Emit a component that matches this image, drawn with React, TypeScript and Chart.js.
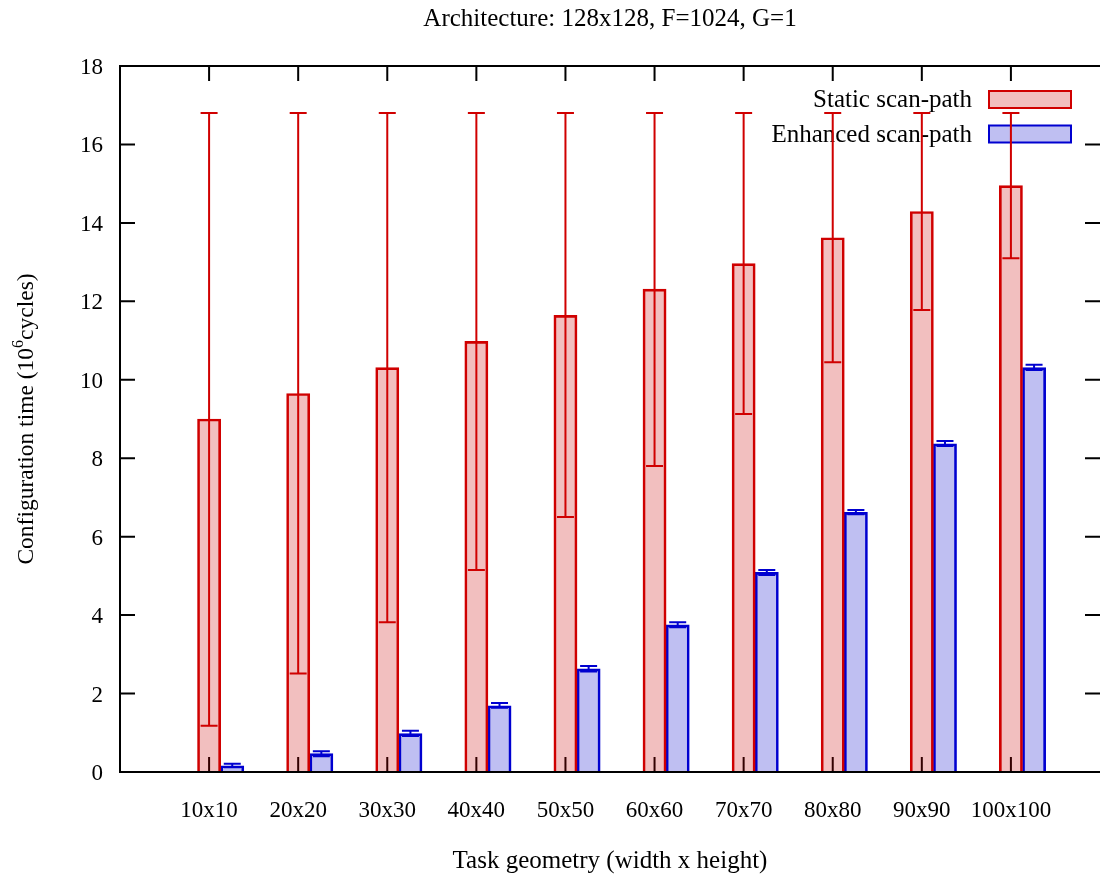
import { useEffect, useRef } from "react";
import { Chart, registerables } from "chart.js";

Chart.register(...registerables);

const categories = ["10x10", "20x20", "30x30", "40x40", "50x50", "60x60", "70x70", "80x80", "90x90", "100x100"];
const staticValues = [9.0, 9.65, 10.31, 10.98, 11.64, 12.31, 12.96, 13.62, 14.29, 14.95];
const staticLow = [1.18, 2.51, 3.82, 5.15, 6.5, 7.8, 9.13, 10.45, 11.78, 13.1];
const staticHigh = [16.8, 16.8, 16.8, 16.8, 16.8, 16.8, 16.8, 16.8, 16.8, 16.8];
const enhancedValues = [0.16, 0.47, 0.98, 1.69, 2.63, 3.75, 5.09, 6.62, 8.37, 10.31];
const enhancedLow = [0.12, 0.4, 0.92, 1.64, 2.56, 3.69, 5.02, 6.57, 8.31, 10.25];
const enhancedHigh = [0.21, 0.53, 1.05, 1.76, 2.7, 3.82, 5.15, 6.68, 8.44, 10.38];
const yTicks = [0, 2, 4, 6, 8, 10, 12, 14, 16, 18];
const seriesLabels = ["Static scan-path", "Enhanced scan-path"];
const chartTitle = "Architecture: 128x128, F=1024, G=1";
const xTitle = "Task geometry (width x height)";
const yTitleParts = ["Configuration time (10", "6", "cycles)"];

const FONT = "'Liberation Serif', 'Times New Roman', serif";
const RED = "rgb(208,0,0)";
const RED_FILL = "rgba(204,0,0,0.25)";
const BLUE = "rgb(0,0,208)";
const BLUE_FILL = "rgba(0,0,204,0.25)";
const BLUE_OFFSET = 0.26;

const errorRanges = [
  { low: staticLow, high: staticHigh, color: RED },
  { low: enhancedLow, high: enhancedHigh, color: BLUE },
];

const decorPlugin = {
  id: "decor",
  beforeDatasetsDraw(chart: any) {
    const { ctx, chartArea: a, scales } = chart;
    const x = scales.x;
    const y = scales.y;
    const tl = 15;
    ctx.save();
    ctx.strokeStyle = "#000";
    ctx.lineWidth = 2;
    ctx.beginPath();
    yTicks.forEach((v) => {
      const py = y.getPixelForValue(v);
      ctx.moveTo(a.left, py);
      ctx.lineTo(a.left + tl, py);
      ctx.moveTo(a.right - tl, py);
      ctx.lineTo(a.right, py);
    });
    categories.forEach((_, i) => {
      const px = x.getPixelForValue(i);
      ctx.moveTo(px, a.bottom);
      ctx.lineTo(px, a.bottom - tl);
      ctx.moveTo(px, a.top);
      ctx.lineTo(px, a.top + tl);
    });
    ctx.stroke();

    // legend
    ctx.font = `25px ${FONT}`;
    ctx.fillStyle = "#000";
    ctx.textAlign = "right";
    ctx.textBaseline = "middle";
    const legendColors = [
      [RED, RED_FILL],
      [BLUE, BLUE_FILL],
    ];
    seriesLabels.forEach((label, i) => {
      const cy = 99.5 + i * 34.5;
      ctx.fillStyle = "#000";
      ctx.fillText(label, 972, cy + 1);
      ctx.fillStyle = legendColors[i][1];
      ctx.fillRect(989, cy - 8.5, 82, 17);
      ctx.strokeStyle = legendColors[i][0];
      ctx.lineWidth = 2;
      ctx.strokeRect(989, cy - 8.5, 82, 17);
    });
    ctx.restore();
  },
  afterDatasetsDraw(chart: any) {
    const { ctx, chartArea: a, scales } = chart;
    const y = scales.y;
    ctx.save();
    // error bars
    errorRanges.forEach((er, di) => {
      const meta = chart.getDatasetMeta(di);
      ctx.strokeStyle = er.color;
      ctx.lineWidth = 2;
      ctx.beginPath();
      meta.data.forEach((el: any, j: number) => {
        const yl = y.getPixelForValue(er.low[j]);
        const yh = y.getPixelForValue(er.high[j]);
        const cx = el.x;
        ctx.moveTo(cx, yl);
        ctx.lineTo(cx, yh);
        ctx.moveTo(cx - 8.5, yl);
        ctx.lineTo(cx + 8.5, yl);
        ctx.moveTo(cx - 8.5, yh);
        ctx.lineTo(cx + 8.5, yh);
      });
      ctx.stroke();
    });
    // frame
    ctx.strokeStyle = "#000";
    ctx.lineWidth = 2;
    ctx.beginPath();
    ctx.moveTo(a.right + 2, a.top);
    ctx.lineTo(a.left, a.top);
    ctx.lineTo(a.left, a.bottom);
    ctx.lineTo(a.right + 2, a.bottom);
    ctx.stroke();
    ctx.restore();
  },
  afterDraw(chart: any) {
    const { ctx, chartArea: a } = chart;
    const cx = (a.left + a.right) / 2;
    ctx.save();
    ctx.fillStyle = "#000";
    ctx.font = `25px ${FONT}`;
    ctx.textAlign = "center";
    ctx.textBaseline = "alphabetic";
    ctx.fillText(chartTitle, cx, 26);
    ctx.fillText(xTitle, cx, 868);

    // y title with superscript
    const cy = (a.top + a.bottom) / 2;
    ctx.translate(33, cy);
    ctx.rotate(-Math.PI / 2);
    const bigFont = `23.5px ${FONT}`;
    const smallFont = `16px ${FONT}`;
    ctx.font = bigFont;
    const w0 = ctx.measureText(yTitleParts[0]).width;
    const w2 = ctx.measureText(yTitleParts[2]).width;
    ctx.font = smallFont;
    const w1 = ctx.measureText(yTitleParts[1]).width;
    const total = w0 + w1 + w2;
    let sx = -total / 2;
    ctx.textAlign = "left";
    ctx.font = bigFont;
    ctx.fillText(yTitleParts[0], sx, 0);
    sx += w0;
    ctx.font = smallFont;
    ctx.fillText(yTitleParts[1], sx, -10);
    sx += w1;
    ctx.font = bigFont;
    ctx.fillText(yTitleParts[2], sx, 0);
    ctx.restore();
  },
};

export default function App() {
  const canvasRef = useRef<HTMLCanvasElement | null>(null);

  useEffect(() => {
    if (!canvasRef.current) return;
    Chart.defaults.font.family = FONT;
    Chart.defaults.font.size = 23;
    Chart.defaults.color = "#000";
    const chart = new Chart(canvasRef.current, {
      type: "bar",
      data: {
        datasets: [
          {
            label: seriesLabels[0],
            data: staticValues.map((v, i) => ({ x: i, y: v })),
            backgroundColor: RED_FILL,
            borderColor: RED,
            borderWidth: 2,
            grouped: false,
            barPercentage: 1,
            categoryPercentage: 1,
          } as any,
          {
            label: seriesLabels[1],
            data: enhancedValues.map((v, i) => ({ x: i + BLUE_OFFSET, y: v })),
            backgroundColor: BLUE_FILL,
            borderColor: BLUE,
            borderWidth: 2,
            grouped: false,
            barPercentage: 1,
            categoryPercentage: 1,
          } as any,
        ],
      },
      options: {
        responsive: false,
        animation: false,
        devicePixelRatio: 1,
        layout: { padding: { top: 66, left: 0, right: 0, bottom: 0 } },
        plugins: {
          legend: { display: false },
          title: { display: false },
          tooltip: { enabled: false },
        },
        scales: {
          x: {
            type: "linear",
            offset: false,
            min: -1,
            max: 10,
            grid: { display: false, drawTicks: false, offset: false },
            border: { display: false },
            ticks: {
              stepSize: 1,
              autoSkip: false,
              maxRotation: 0,
              padding: 25,
              font: { size: 23, family: FONT },
              callback: (v: any) => (Number.isInteger(v) && categories[v] ? categories[v] : ""),
            },
            afterFit: (s: any) => {
              s.height = 104;
              s.paddingLeft = 0;
              s.paddingRight = 0;
            },
          },
          y: {
            min: 0,
            max: 18,
            grid: { display: false, drawTicks: false },
            border: { display: false },
            ticks: {
              stepSize: 2,
              padding: 17,
              labelOffset: 2,
              font: { size: 23, family: FONT },
              callback: (v: any) => (yTicks.includes(v) ? String(v) : ""),
            },
            afterFit: (s: any) => {
              s.width = 120;
              s.paddingTop = 0;
              s.paddingBottom = 0;
            },
          },
        },
      } as any,
      plugins: [decorPlugin],
    });
    return () => chart.destroy();
  }, []);

  return (
    <div style={{ position: "fixed", left: 0, top: 0, width: 1100, height: 876, background: "#fff" }}>
      <canvas ref={canvasRef} width={1100} height={876} style={{ display: "block" }} />
    </div>
  );
}
